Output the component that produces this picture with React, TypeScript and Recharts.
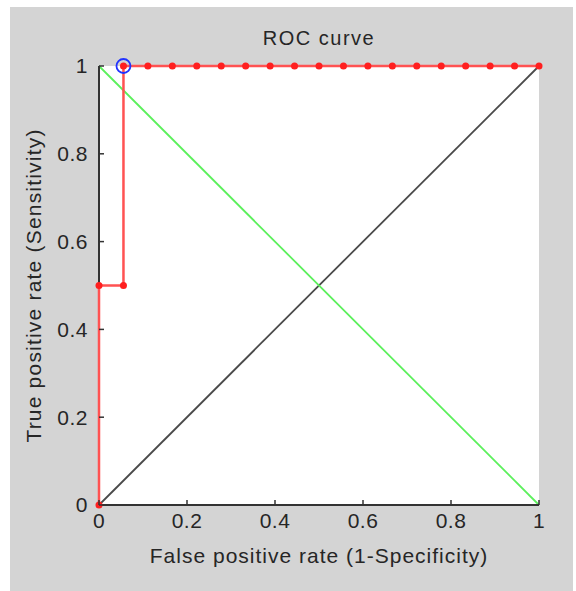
import {
  ComposedChart,
  CartesianGrid,
  Scatter,
  XAxis,
  YAxis,
  ReferenceLine,
  Label,
} from "recharts";

// ROC points: false positive rate / true positive rate
const rocFpr = [
  0, 0, 0.0556, 0.0556, 0.1111, 0.1667, 0.2222, 0.2778, 0.3333, 0.3889, 0.4444,
  0.5, 0.5556, 0.6111, 0.6667, 0.7222, 0.7778, 0.8333, 0.8889, 0.9444, 1,
];
const rocTpr = [
  0, 0.5, 0.5, 1, 1, 1, 1, 1, 1, 1, 1, 1, 1, 1, 1, 1, 1, 1, 1, 1, 1,
];

// chosen operating point (blue circle)
const opFpr = [0.0556];
const opTpr = [1];

// reference lines
const chanceX = [0, 1];
const chanceY = [0, 1];
const crossX = [0, 1];
const crossY = [1, 0];

const ticks = [0, 0.2, 0.4, 0.6, 0.8, 1];

const rocPoints = rocFpr.map((x, i) => ({ x, y: rocTpr[i] }));
const opPoints = opFpr.map((x, i) => ({ x, y: opTpr[i] }));

const FONT = "'Liberation Sans', Arial, sans-serif";
const AXIS = "#333";
const TEXT = "#262626";
const TICK_LEN = 5;

const RedDot = (p: any) => <circle cx={p.cx} cy={p.cy} r={3.5} fill="#ff1f1f" />;
const BlueRing = (p: any) => (
  <circle cx={p.cx} cy={p.cy} r={7} fill="none" stroke="#2233ff" strokeWidth={1.8} />
);

// matlab style ticks: short marks pointing into the plot
const BottomTick = ({ x, y, payload }: any) => (
  <g>
    <line x1={x} x2={x} y1={y - 8} y2={y - 8 - TICK_LEN} stroke={AXIS} strokeWidth={1.5} />
    <text x={x} y={y} dy="0.71em" textAnchor="middle" fontSize={21} fill={TEXT} fontFamily={FONT} letterSpacing={0.5}>
      {payload.value}
    </text>
  </g>
);
const LeftTick = ({ x, y, payload }: any) => (
  <g>
    <line x1={x + 11} x2={x + 11 + TICK_LEN} y1={y} y2={y} stroke={AXIS} strokeWidth={1.5} />
    <text x={x} y={y} dy="0.355em" textAnchor="end" fontSize={21} fill={TEXT} fontFamily={FONT} letterSpacing={0.5}>
      {payload.value}
    </text>
  </g>
);
const TopTick = ({ x, y }: any) => (
  <line x1={x} x2={x} y1={y} y2={y + TICK_LEN} stroke={AXIS} strokeWidth={1.5} />
);
const RightTick = ({ x, y }: any) => (
  <line x1={x} x2={x - TICK_LEN} y1={y} y2={y} stroke={AXIS} strokeWidth={1.5} />
);

export default function App() {
  return (
    <div style={{ position: "absolute", left: 0, top: 0, width: 576, height: 591, background: "#fff" }}>
      <div style={{ position: "absolute", left: 10, top: 7, width: 563, height: 584, background: "#d4d4d4" }} />
      <div
        style={{
          position: "absolute",
          left: 99,
          top: 28,
          width: 440,
          textAlign: "center",
          fontFamily: FONT,
          fontSize: 20,
          lineHeight: "20px",
          letterSpacing: 1.5,
          color: TEXT,
        }}
      >
        ROC curve
      </div>
      <div style={{ position: "absolute", left: 0, top: 0 }}>
        <ComposedChart width={576} height={591} margin={{ top: 66, right: 37, bottom: 26, left: 10 }}>
          <CartesianGrid fill="#fff" stroke="none" horizontal={false} vertical={false} />
          <XAxis
            type="number"
            dataKey="x"
            domain={[0, 1]}
            ticks={ticks}
            height={60}
            stroke={AXIS}
            strokeWidth={2}
            tickLine={false}
            tickSize={0}
            tickMargin={8}
            tick={BottomTick}
          >
            <Label
              content={({ viewBox }: any) => (
                <text
                  x={viewBox.x + viewBox.width / 2}
                  y={viewBox.y + 58}
                  textAnchor="middle"
                  fontSize={21}
                  fill={TEXT}
                  fontFamily={FONT}
                  letterSpacing={1}
                >
                  False positive rate (1-Specificity)
                </text>
              )}
            />
          </XAxis>
          <XAxis
            xAxisId="top"
            orientation="top"
            type="number"
            dataKey="x"
            domain={[0, 1]}
            ticks={ticks}
            height={0}
            stroke={AXIS}
            strokeWidth={2}
            tickLine={false}
            tickSize={0}
            tickMargin={0}
            tick={TopTick}
          />
          <YAxis
            type="number"
            dataKey="y"
            domain={[0, 1]}
            ticks={ticks}
            width={89}
            stroke={AXIS}
            strokeWidth={2}
            tickLine={false}
            tickSize={0}
            tickMargin={11}
            tick={LeftTick}
          >
            <Label
              content={({ viewBox }: any) => {
                const cx = viewBox.x + 31;
                const cy = viewBox.y + viewBox.height / 2;
                return (
                  <text
                    x={cx}
                    y={cy}
                    transform={`rotate(-90 ${cx} ${cy})`}
                    textAnchor="middle"
                    fontSize={21}
                    fill={TEXT}
                    fontFamily={FONT}
                    letterSpacing={1.2}
                  >
                    True positive rate (Sensitivity)
                  </text>
                );
              }}
            />
          </YAxis>
          <YAxis
            yAxisId="right"
            orientation="right"
            type="number"
            dataKey="y"
            domain={[0, 1]}
            ticks={ticks}
            width={0}
            stroke={AXIS}
            strokeWidth={2}
            tickLine={false}
            tickSize={0}
            tickMargin={0}
            tick={RightTick}
          />
          <ReferenceLine
            segment={[
              { x: chanceX[0], y: chanceY[0] },
              { x: chanceX[1], y: chanceY[1] },
            ]}
            stroke="#4a4a4a"
            strokeWidth={1.8}
          />
          <ReferenceLine
            segment={[
              { x: crossX[0], y: crossY[0] },
              { x: crossX[1], y: crossY[1] },
            ]}
            stroke="#5cf05c"
            strokeWidth={1.8}
          />
          <Scatter
            data={rocPoints}
            line={{ stroke: "#ff5252", strokeWidth: 2.5 }}
            lineType="joint"
            shape={RedDot}
            isAnimationActive={false}
          />
          <Scatter data={opPoints} shape={BlueRing} isAnimationActive={false} />
        </ComposedChart>
      </div>
    </div>
  );
}
